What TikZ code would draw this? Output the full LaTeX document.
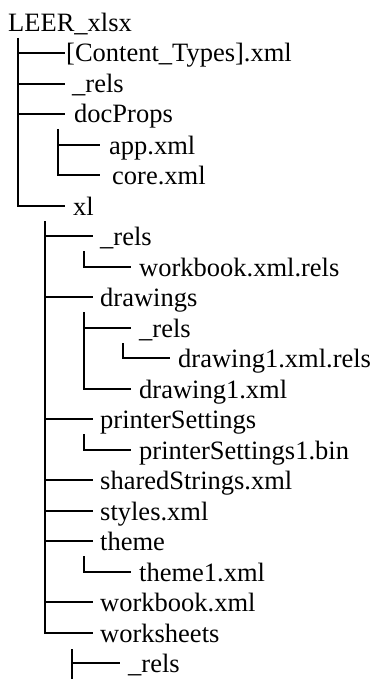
\documentclass[tikz,border=0pt]{standalone}
\usepackage{fontspec}
\setmainfont{Liberation Serif}
\newcommand\twig[3]{\coordinate (tw) at ([yshift=9pt]#2.base west); \draw[tree] (#1 |- tw) -- (#3 |- tw);}
\newcommand\lasttwig[3]{\coordinate (tw) at ([yshift=9pt]#2.base west); \draw[tree] (#1) |- (#3 |- tw);}
\begin{document}
\begin{tikzpicture}[x=1pt,y=-1pt,
  fnode/.style={anchor=base west, inner sep=0pt, font=\fontsize{26.5}{30}\selectfont},
  tree/.style={line width=2pt, line cap=butt}]
\useasboundingbox (0,0) rectangle (374,679);
\node[fnode] (n0) at (8,32) {LEER\_xlsx};
\node[fnode] (n1) at (66,62) {[Content\_Types].xml};
\node[fnode] (n2) at (72,93) {\_rels};
\node[fnode] (n3) at (74,123) {docProps};
\node[fnode] (n4) at (109,154) {app.xml};
\node[fnode] (n5) at (112,184) {core.xml};
\node[fnode] (n6) at (73,215) {xl};
\node[fnode] (n7) at (100,245) {\_rels};
\node[fnode] (n8) at (139,276) {workbook.xml.rels};
\node[fnode] (n9) at (100,306) {drawings};
\node[fnode] (n10) at (139,337) {\_rels};
\node[fnode] (n11) at (178,367) {drawing1.xml.rels};
\node[fnode] (n12) at (139,398) {drawing1.xml};
\node[fnode] (n13) at (100,428) {printerSettings};
\node[fnode] (n14) at (139,459) {printerSettings1.bin};
\node[fnode] (n15) at (100,489) {sharedStrings.xml};
\node[fnode] (n16) at (100,520) {styles.xml};
\node[fnode] (n17) at (100,550) {theme};
\node[fnode] (n18) at (139,581) {theme1.xml};
\node[fnode] (n19) at (100,611) {workbook.xml};
\node[fnode] (n20) at (100,642) {worksheets};
\node[fnode] (n21) at (128,672) {\_rels};
% root
\coordinate (v0) at (18,38); \coordinate (e0) at (65,0);
\twig{v0}{n1}{e0} \twig{v0}{n2}{e0} \twig{v0}{n3}{e0} \lasttwig{v0}{n6}{e0}
% docProps
\coordinate (v3) at (58,129); \coordinate (e3) at (100,0);
\twig{v3}{n4}{e3} \lasttwig{v3}{n5}{e3}
% xl
\coordinate (v6) at (45,221); \coordinate (e6) at (93,0);
\twig{v6}{n7}{e6} \twig{v6}{n9}{e6} \twig{v6}{n13}{e6} \twig{v6}{n15}{e6}
\twig{v6}{n16}{e6} \twig{v6}{n17}{e6} \twig{v6}{n19}{e6} \lasttwig{v6}{n20}{e6}
% xl/_rels
\coordinate (v7) at (84,251); \coordinate (e7) at (131,0);
\lasttwig{v7}{n8}{e7}
% drawings
\coordinate (v9) at (84,312);
\twig{v9}{n10}{e7} \lasttwig{v9}{n12}{e7}
% drawings/_rels
\coordinate (v10) at (123,343); \coordinate (e10) at (170,0);
\lasttwig{v10}{n11}{e10}
% printerSettings
\coordinate (v13) at (84,434);
\lasttwig{v13}{n14}{e7}
% theme
\coordinate (v17) at (84,556);
\lasttwig{v17}{n18}{e7}
% worksheets
\coordinate (v20) at (72,649); \coordinate (e20) at (120,0); \coordinate (v20b) at (72,679);
\twig{v20}{n21}{e20}
\draw[tree] (v20) -- (v20b);
\end{tikzpicture}
\end{document}
